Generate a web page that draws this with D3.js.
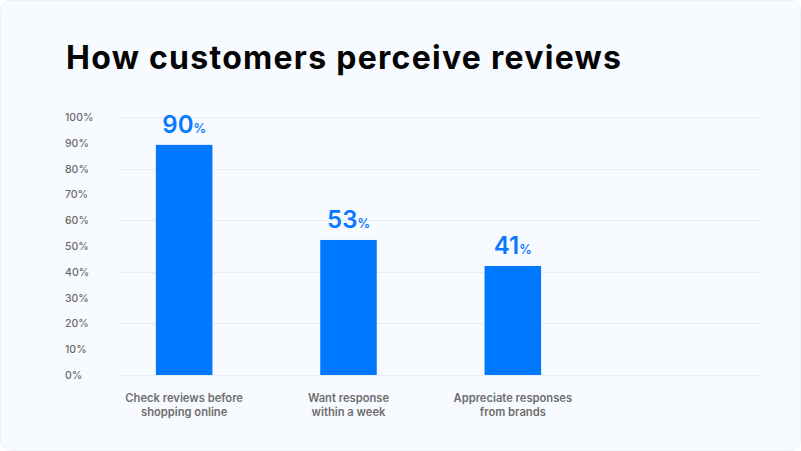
<!DOCTYPE html>
<html>
<head>
<meta charset="utf-8">
<script src="https://cdn.jsdelivr.net/npm/d3@7"></script>
<style>
  html, body { margin: 0; padding: 0; background: #ffffff; }
  svg { display: block; }
  text { font-family: Inter, "Open Sans", sans-serif; }
</style>
</head>
<body>
<svg id="chart" width="801" height="451"></svg>
<script>
// ---- data ----
const title = "How customers perceive reviews";
const categories = ["Check reviews before shopping online", "Want response within a week", "Appreciate responses from brands"];
const categoryLines = [["Check reviews before", "shopping online"], ["Want response", "within a week"], ["Appreciate responses", "from brands"]];
const values = [89.3, 52.4, 42.3];
const valueLabels = ["90", "53", "41"];
const yTicks = [0, 10, 20, 30, 40, 50, 60, 70, 80, 90, 100];
const gridTicks = [0, 20, 40, 60, 80, 100];

// ---- chart ----
const svg = d3.select("#chart");
const W = 801, H = 451;

svg.append("rect")
  .attr("x", 0.5).attr("y", 0.5)
  .attr("width", W - 1).attr("height", H - 1)
  .attr("rx", 10)
  .attr("fill", "#f7fafe")
  .attr("stroke", "#eef2f7");

const tt = svg.append("text")
  .attr("x", 66).attr("y", 69)
  .attr("font-family", "'DejaVu Sans', Inter, sans-serif")
  .attr("font-size", 29)
  .attr("font-weight", 700)
  .attr("fill", "#050505")
  .text(title);
const tl = tt.node().getComputedTextLength();
let fs = 29 * 555 / tl;
fs = Math.max(26, Math.min(32, fs));
tt.attr("font-size", fs);
const tl2 = tt.node().getComputedTextLength();
if (Math.abs(tl2 - 555) > 3) tt.attr("textLength", 555).attr("lengthAdjust", "spacing");

const y = d3.scaleLinear().domain([0, 100]).range([375, 117.3]);
const x = d3.scaleBand().domain(categories)
  .range([102, 595])
  .paddingInner(0.656)
  .paddingOuter(0.328);

// gridlines
svg.append("g").selectAll("line")
  .data(gridTicks)
  .join("line")
  .attr("x1", 120).attr("x2", 760)
  .attr("y1", d => Math.round(y(d)) + 0.5)
  .attr("y2", d => Math.round(y(d)) + 0.5)
  .attr("stroke", "#e9edf2")
  .attr("stroke-width", 1);

// y axis labels
const yAxis = d3.axisLeft(y).tickValues(yTicks).tickFormat(d => d + "%").tickSize(0).tickPadding(0);
const gy = svg.append("g").attr("transform", "translate(65,0)").call(yAxis);
gy.select(".domain").remove();
gy.selectAll("text")
  .attr("text-anchor", "start")
  .attr("font-family", "Inter, sans-serif")
  .attr("font-size", 10.5)
  .attr("font-weight", 500)
  .attr("fill", "#6a6a6a");

// bars
svg.append("g").selectAll("rect")
  .data(values)
  .join("rect")
  .attr("x", (d, i) => x(categories[i]))
  .attr("width", x.bandwidth())
  .attr("y", d => y(d))
  .attr("height", d => y(0) - y(d))
  .attr("fill", "#0077ff");

// value labels
const vl = svg.append("g").selectAll("text")
  .data(values)
  .join("text")
  .attr("x", (d, i) => x(categories[i]) + x.bandwidth() / 2)
  .attr("y", d => y(d) - 12)
  .attr("text-anchor", "middle")
  .attr("fill", "#0a78ff");
vl.append("tspan").attr("font-size", 24).attr("font-weight", 600).text((d, i) => valueLabels[i]);
vl.append("tspan").attr("font-size", 12.5).attr("font-weight", 600).text("%");

// category labels
const cl = svg.append("g").selectAll("text")
  .data(categories)
  .join("text")
  .attr("text-anchor", "middle")
  .attr("font-size", 11.2)
  .attr("font-weight", 600)
  .attr("fill", "#6e6e6e");
cl.selectAll("tspan")
  .data((d, i) => categoryLines[i].map(t => ({ t, c: d })))
  .join("tspan")
  .attr("x", d => x(d.c) + x.bandwidth() / 2)
  .attr("y", (d, j) => 402 + j * 13.5)
  .text(d => d.t);
</script>
</body>
</html>
